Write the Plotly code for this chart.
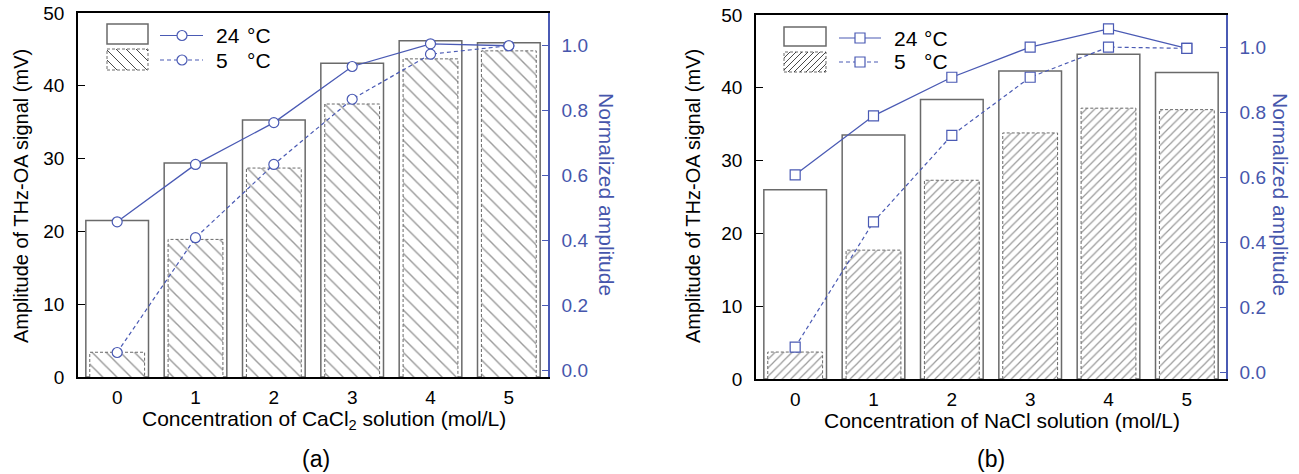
import plotly.graph_objects as go

# ---------------- data ----------------
conc = [0, 1, 2, 3, 4, 5]
tick_labels = ["0", "1", "2", "3", "4", "5"]

cacl2_bar_24 = [21.5, 29.4, 35.3, 43.1, 46.2, 45.9]
cacl2_bar_5 = [3.4, 18.9, 28.7, 37.5, 43.7, 44.8]
cacl2_norm_24 = [0.457, 0.634, 0.763, 0.936, 1.006, 1.0]
cacl2_norm_5 = [0.054, 0.408, 0.634, 0.835, 0.974, 1.0]

nacl_bar_24 = [26.0, 33.5, 38.4, 42.3, 44.6, 42.1]
nacl_bar_5 = [3.7, 17.7, 27.3, 33.8, 37.2, 37.0]
nacl_norm_24 = [0.608, 0.790, 0.909, 1.002, 1.058, 0.998]
nacl_norm_5 = [0.077, 0.463, 0.730, 0.909, 1.002, 0.998]

left_ticks = [0, 10, 20, 30, 40, 50]
right_ticks = [0.0, 0.2, 0.4, 0.6, 0.8, 1.0]

# ---------------- style ----------------
W, H = 1299, 474
FONT = "Liberation Sans, Arial, sans-serif"
BLUE = "#4a5ab4"
BLUE_TXT = "#4656ac"
GRAY = "#6a6a6a"
HATCH = "#333333"
TICK = 19


def px(p):
    return p / W


def py(p):
    return 1 - p / H


panels = [
    dict(xa="x", ya="y", ya2="y2", bx=(78, 548), by=(13, 377),
         b24=cacl2_bar_24, b5=cacl2_bar_5, n24=cacl2_norm_24, n5=cacl2_norm_5,
         hatch="\\", hsize=10, solid=0.14, symbol="circle", msize=10,
         xtitle="Concentration of CaCl<sub>2</sub> solution (mol/L)", xtx=324,
         ytx=21, y2tx=607, lab="(a)", labx=316,
         leg=dict(bx0=107, bx1=148, r1=(24, 44), r2=(49, 70), lx0=160, lx1=203, mx=182,
                  ry1=35.5, ry2=60, tx=214, dx=245)),
    dict(xa="x2", ya="y3", ya2="y4", bx=(756, 1226), by=(15, 379),
         b24=nacl_bar_24, b5=nacl_bar_5, n24=nacl_norm_24, n5=nacl_norm_5,
         hatch="/", hsize=6, solid=0.2, symbol="square", msize=10,
         xtitle="Concentration of NaCl solution (mol/L)", xtx=1002,
         ytx=693, y2tx=1281, lab="(b)", labx=991,
         leg=dict(bx0=784, bx1=826, r1=(27, 46), r2=(52, 72), lx0=839, lx1=881, mx=860,
                  ry1=38, ry2=62, tx=892, dx=922)),
]

fig = go.Figure()
shapes = []
annotations = []


def clip_seg(xa_, ya_, xb_, yb_, x0, x1):
    dx = xb_ - xa_
    if dx == 0:
        return None
    ta = (x0 - xa_) / dx
    tb = (x1 - xa_) / dx
    t0, t1 = max(0.0, min(ta, tb)), min(1.0, max(ta, tb))
    if t0 >= t1:
        return None
    dy = yb_ - ya_
    return (xa_ + dx * t0, ya_ + dy * t0, xa_ + dx * t1, ya_ + dy * t1)


for i, P in enumerate(panels):
    # 24 C bars (open)
    fig.add_trace(go.Bar(
        x=conc, y=P["b24"], width=0.8, xaxis=P["xa"], yaxis=P["ya"],
        marker=dict(color="white", line=dict(color=GRAY, width=1.5)),
        showlegend=False, hoverinfo="skip"))
    # 5 C bars (hatched)
    fig.add_trace(go.Bar(
        x=conc, y=P["b5"], width=0.7, xaxis=P["xa"], yaxis=P["ya"],
        marker=dict(color="white", line=dict(width=0),
                    pattern=dict(shape=P["hatch"], fgcolor=HATCH, bgcolor="white",
                                 size=P["hsize"], solidity=P["solid"])),
        showlegend=False, hoverinfo="skip"))
    # dashed outline of hatched bars, from the same data
    ox, oy = [], []
    for c, v in zip(conc, P["b5"]):
        ox += [c - 0.35, c - 0.35, c + 0.35, c + 0.35, None]
        oy += [0, v, v, 0, None]
    fig.add_trace(go.Scatter(
        x=ox, y=oy, mode="lines", xaxis=P["xa"], yaxis=P["ya"],
        line=dict(color=GRAY, width=1, dash="3px,2px"),
        showlegend=False, hoverinfo="skip"))
    # normalized lines
    fig.add_trace(go.Scatter(
        x=conc, y=P["n24"], mode="lines+markers", xaxis=P["xa"], yaxis=P["ya2"],
        line=dict(color=BLUE, width=1.3),
        marker=dict(symbol=P["symbol"], size=P["msize"], color="white",
                    line=dict(color=BLUE, width=1.2)),
        showlegend=False, hoverinfo="skip"))
    fig.add_trace(go.Scatter(
        x=conc, y=P["n5"], mode="lines+markers", xaxis=P["xa"], yaxis=P["ya2"],
        line=dict(color=BLUE, width=1.2, dash="4px,3px"),
        marker=dict(symbol=P["symbol"], size=P["msize"], color="white",
                    line=dict(color=BLUE, width=1.2)),
        showlegend=False, hoverinfo="skip"))

    # ---- manual legend ----
    L = P["leg"]
    shapes.append(dict(type="rect", xref="paper", yref="paper",
                       x0=px(L["bx0"]), x1=px(L["bx1"]), y0=py(L["r1"][1]), y1=py(L["r1"][0]),
                       line=dict(color=GRAY, width=1.5), fillcolor="white"))
    shapes.append(dict(type="rect", xref="paper", yref="paper",
                       x0=px(L["bx0"]), x1=px(L["bx1"]), y0=py(L["r2"][1]), y1=py(L["r2"][0]),
                       line=dict(color=GRAY, width=1, dash="3px,2px"), fillcolor="white"))
    x0, x1 = L["bx0"], L["bx1"]
    y0, y1 = L["r2"]
    step = P["hsize"]
    segs = []
    k = x0 - (y1 - y0)
    while k < x1:
        if P["hatch"] == "\\":
            a = (k, y0); b = (k + (y1 - y0), y1)
        else:
            a = (k, y1); b = (k + (y1 - y0), y0)
        c = clip_seg(a[0], a[1], b[0], b[1], x0, x1)
        if c:
            segs.append("M%.5f,%.5f L%.5f,%.5f" % (px(c[0]), py(c[1]), px(c[2]), py(c[3])))
        k += step
    shapes.append(dict(type="path", xref="paper", yref="paper", path=" ".join(segs),
                       line=dict(color=HATCH, width=0.9)))
    for ry, dash in [(L["ry1"], "solid"), (L["ry2"], "4px,3px")]:
        shapes.append(dict(type="line", xref="paper", yref="paper",
                           x0=px(L["lx0"]), x1=px(L["lx1"]), y0=py(ry), y1=py(ry),
                           line=dict(color=BLUE, width=1.2, dash=dash)))
        r = 5
        shapes.append(dict(type="circle" if P["symbol"] == "circle" else "rect",
                           xref="paper", yref="paper",
                           x0=px(L["mx"] - r), x1=px(L["mx"] + r), y0=py(ry + r), y1=py(ry - r),
                           line=dict(color=BLUE, width=1.2), fillcolor="white"))
    for ry, t in [(L["ry1"], "24"), (L["ry2"], "5")]:
        annotations.append(dict(xref="paper", yref="paper", x=px(L["tx"]), y=py(ry),
                                text=t, showarrow=False, xanchor="left", yanchor="middle",
                                font=dict(family=FONT, size=21, color="black")))
        annotations.append(dict(xref="paper", yref="paper", x=px(L["dx"]), y=py(ry),
                                text="°C", showarrow=False, xanchor="left", yanchor="middle",
                                font=dict(family=FONT, size=21, color="black")))

    # ---- titles ----
    annotations.append(dict(xref="paper", yref="paper", x=px(P["xtx"]), y=py(420),
                            text=P["xtitle"], showarrow=False, xanchor="center", yanchor="middle",
                            font=dict(family=FONT, size=21, color="black")))
    annotations.append(dict(xref="paper", yref="paper", x=px(P["labx"]), y=py(459),
                            text=P["lab"], showarrow=False, xanchor="center", yanchor="middle",
                            font=dict(family=FONT, size=23, color="black")))
    annotations.append(dict(xref="paper", yref="paper", x=px(P["ytx"]), y=py(196),
                            text="Amplitude of THz-OA signal (mV)", showarrow=False, textangle=-90,
                            xanchor="center", yanchor="middle",
                            font=dict(family=FONT, size=20, color="black")))
    annotations.append(dict(xref="paper", yref="paper", x=px(P["y2tx"]), y=py(194),
                            text="Normalized amplitude", showarrow=False, textangle=90,
                            xanchor="center", yanchor="middle",
                            font=dict(family=FONT, size=21, color=BLUE_TXT)))

    # ---- axes ----
    xname = "xaxis" if i == 0 else "xaxis2"
    yname = "yaxis" if i == 0 else "yaxis3"
    y2name = "yaxis2" if i == 0 else "yaxis4"
    xdom = [px(P["bx"][0]), px(P["bx"][1])]
    ydom = [py(P["by"][1]), py(P["by"][0])]
    fig.update_layout(**{
        xname: dict(domain=xdom, range=[-0.5, 5.5], anchor=P["ya"], automargin=False,
                    tickvals=conc, ticktext=tick_labels, ticks="", showline=True,
                    mirror=True, linecolor="black", linewidth=1.5, showgrid=False,
                    ticklabelstandoff=2,
                    zeroline=False, tickfont=dict(family=FONT, size=TICK, color="black")),
        yname: dict(domain=ydom, range=[0, 50], anchor=P["xa"], tickvals=left_ticks,
                    automargin=False, ticklabelstandoff=8,
                    ticks="inside", ticklen=7, tickcolor="black", tickwidth=1.2,
                    showline=True, linecolor="black", linewidth=1.5, showgrid=False,
                    zeroline=False, tickfont=dict(family=FONT, size=TICK, color="black")),
        y2name: dict(range=[-0.0216, 1.101], overlaying=P["ya"], side="right",
                     anchor=P["xa"], tickvals=right_ticks, tickformat=".1f",
                     automargin=False, ticklabelstandoff=8,
                     ticks="inside", ticklen=6, tickcolor=BLUE, tickwidth=1.2,
                     showline=True, linecolor=BLUE, linewidth=1.5, showgrid=False,
                     zeroline=False, tickfont=dict(family=FONT, size=TICK, color=BLUE_TXT)),
    })

fig.update_layout(
    width=W, height=H, margin=dict(l=0, r=0, t=0, b=0, autoexpand=False),
    paper_bgcolor="white", plot_bgcolor="white",
    barmode="overlay", showlegend=False,
    shapes=shapes, annotations=annotations,
    font=dict(family=FONT),
)

fig.write_html("out.html", config={"displayModeBar": False},
               post_script="document.body.style.margin='0';document.body.style.overflow='hidden';")
